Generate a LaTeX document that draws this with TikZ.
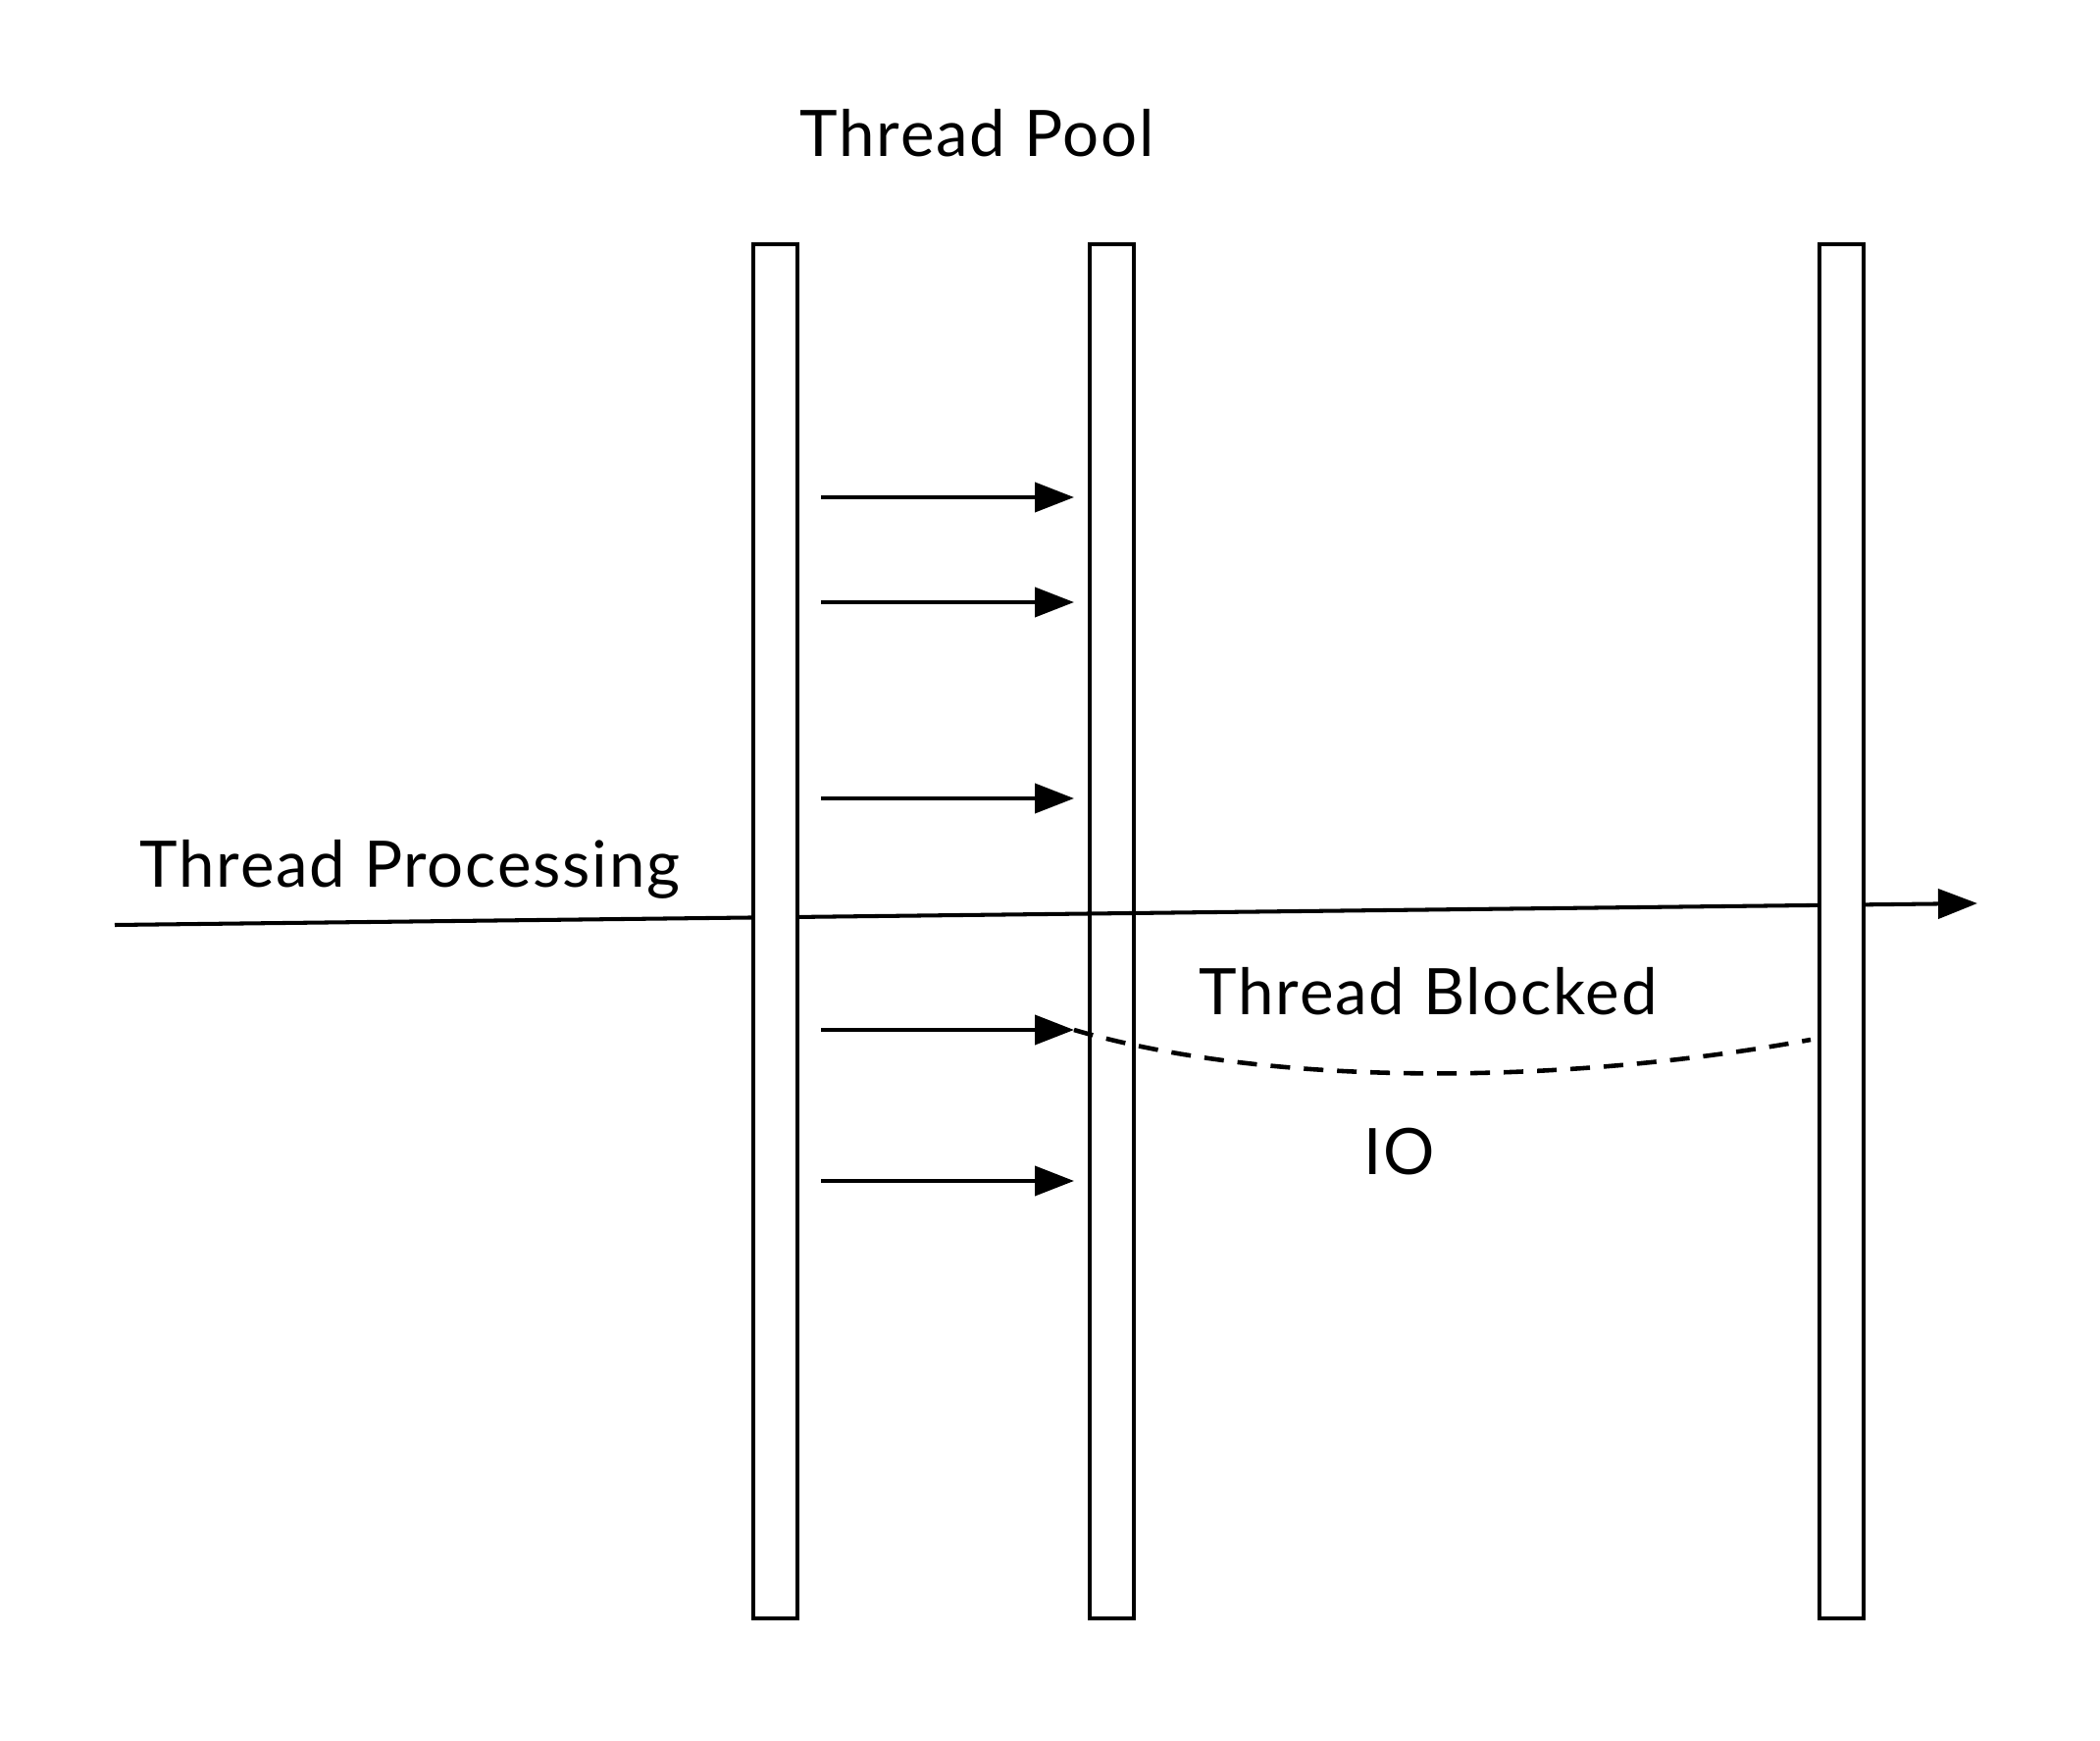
\documentclass[tikz,border=0pt]{standalone}
\usepackage{fontspec}
\setmainfont{Lato}[LetterSpace=2.8]
\usetikzlibrary{arrows.meta}
\tikzset{
  bar/.style={draw, line width=1.15pt, fill=white, minimum width=0.45cm, minimum height=14.01cm, inner sep=0pt},
  task/.style={line width=1.15pt, -{Triangle[length=0.4cm,width=0.3cm]}},
  lbl/.style={anchor=base west, inner sep=0pt, font=\fontsize{18.6}{22}\selectfont},
}
\begin{document}
\begin{tikzpicture}
  \useasboundingbox (0,0) rectangle (21.41,17.74);
  \node[bar] (pool2) at (11.335,8.245) {};
  \coordinate (in) at (1.17,8.31);
  \coordinate (out) at (20.16,8.53);
  \draw[task] (in) -- (out);
  \foreach \y [count=\i] in {12.67,11.60,9.60,7.24,5.70} {
    \coordinate (s\i) at (8.37,\y);
    \coordinate (t\i) at (10.95,\y);
    \draw[task] (s\i) -- (t\i);
  }
  \coordinate (io) at (18.46,7.14);
  \draw[line width=1.3pt, dash pattern=on 0.2cm off 0.14cm] (t4) .. controls (13.0,6.64) and (16.0,6.69) .. (io);
  \node[bar] (pool1) at (7.905,8.245) {};
  \node[bar] (pool3) at (18.775,8.245) {};
  \node[lbl] (title) at (8.15,16.14) {Thread Pool};
  \node[lbl] (proc) at (1.42,8.70) {Thread Processing};
  \node[lbl] (block) at (12.22,7.40) {Thread Blocked};
  \node[lbl] (iolbl) at (13.90,5.77) {IO};
\end{tikzpicture}
\end{document}
